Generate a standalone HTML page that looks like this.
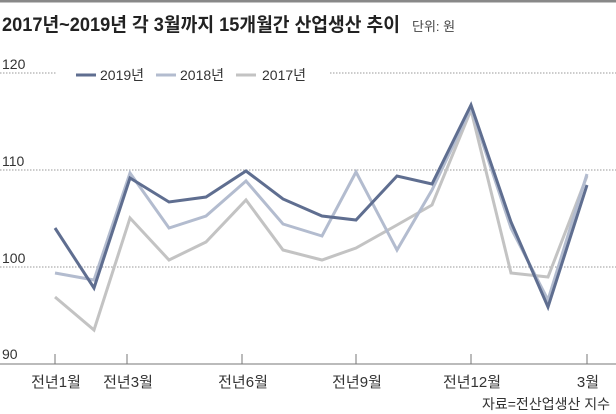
<!DOCTYPE html>
<html><head><meta charset="utf-8"><style>
body{margin:0;background:#fff;}
svg{display:block;font-family:"Liberation Sans","Noto Sans CJK KR",sans-serif;}
</style></head><body>
<svg width="616" height="414" viewBox="0 0 616 414">
<rect x="0" y="0" width="616" height="2.5" fill="#888"/>
<text x="2" y="31" font-size="19" font-weight="bold" fill="#222" textLength="398" lengthAdjust="spacingAndGlyphs">2017년~2019년 각 3월까지 15개월간 산업생산 추이</text>
<text x="412" y="31" font-size="13" fill="#444">단위: 원</text>
<g stroke="#999" stroke-width="1" stroke-dasharray="1.5,1.5">
<line x1="0" y1="73" x2="56" y2="73"/><line x1="330" y1="73" x2="616" y2="73"/>
<line x1="0" y1="170" x2="616" y2="170"/>
<line x1="0" y1="267" x2="616" y2="267"/>
</g>
<line x1="0" y1="364" x2="616" y2="364" stroke="#777" stroke-width="1"/>
<g stroke="#777"><line x1="55" y1="354" x2="55" y2="364"/><line x1="127" y1="354" x2="127" y2="364"/><line x1="242" y1="354" x2="242" y2="364"/><line x1="356" y1="354" x2="356" y2="364"/><line x1="471" y1="354" x2="471" y2="364"/><line x1="587" y1="354" x2="587" y2="364"/></g>
<g font-size="14" fill="#333">
<text x="2" y="69">120</text><text x="2" y="166">110</text><text x="2" y="263">100</text><text x="2" y="359">90</text>
</g>
<g font-size="15" fill="#333" text-anchor="middle">
<text x="56" y="387">전년1월</text><text x="128" y="387">전년3월</text><text x="243" y="387">전년6월</text><text x="357" y="387">전년9월</text><text x="472" y="387">전년12월</text><text x="588" y="387">3월</text>
</g>
<text x="610" y="409" font-size="14" fill="#333" text-anchor="end">자료=전산업생산 지수</text>
<g font-size="14" fill="#333">
<line x1="76" y1="75" x2="96" y2="75" stroke="#5f6e90" stroke-width="3"/><text x="100" y="80">2019년</text>
<line x1="156" y1="75" x2="176" y2="75" stroke="#b3bccf" stroke-width="3"/><text x="180" y="80">2018년</text>
<line x1="236" y1="75" x2="256" y2="75" stroke="#c3c3c3" stroke-width="3"/><text x="262" y="80">2017년</text>
</g>
<g fill="none" stroke-width="3" stroke-linejoin="miter">
<polyline stroke="#c3c3c3" points="55,297 94,330 130,218 169,260 206,242 246,200 283,250 322,260 356,248 397,225 432,205 471,110 511,273 548,277 587,176"/>
<polyline stroke="#b3bccf" points="55,273 94,280 130,173 169,228 206,216 246,181 283,224 322,236 356,172 397,250 432,190 471,108 511,228 548,300 587,174"/>
<polyline stroke="#5f6e90" points="55,228 94,288 130,178 169,202 206,197 246,171 283,199 322,216 356,220 397,176 432,184 471,105 511,222 548,307 587,185"/>
</g>
</svg>
</body></html>
